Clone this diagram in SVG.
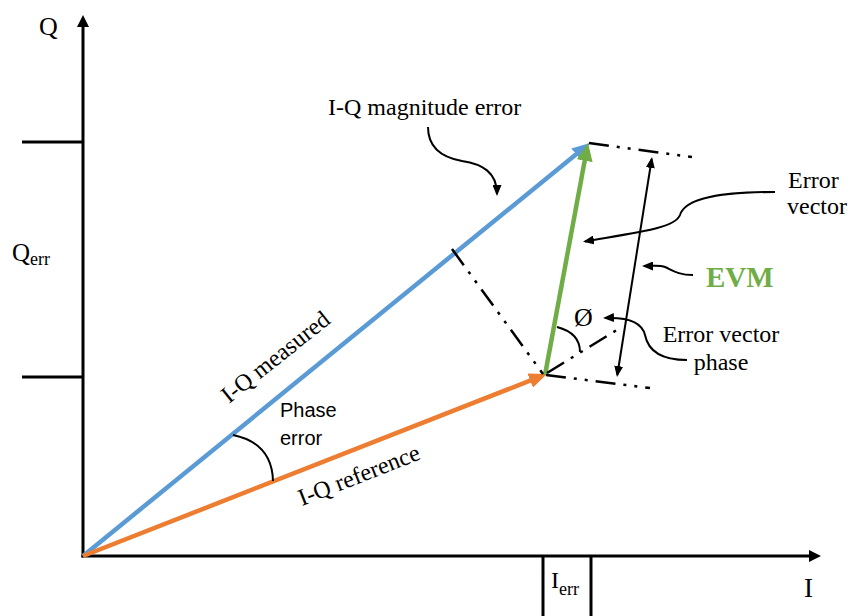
<svg xmlns="http://www.w3.org/2000/svg" width="850" height="616" viewBox="0 0 850 616">
<style>
.serif{font-family:"Liberation Serif","Times New Roman",serif;fill:#000}
.sans{font-family:"Liberation Sans",Arial,sans-serif;fill:#000}
.axis{stroke:#000;stroke-width:3;fill:none}
.thin{stroke:#000;stroke-width:2;fill:none}
.dd{stroke:#000;stroke-width:2.5;fill:none;stroke-dasharray:20 8 3 8 3 8}
</style>
<defs>
<marker id="axHead" viewBox="0 0 12 12" refX="8" refY="6" markerWidth="12" markerHeight="12" markerUnits="userSpaceOnUse" orient="auto"><path d="M0,0 L12,6 L0,12 z" fill="#000"/></marker>
<marker id="blueHead" viewBox="0 0 18 15" refX="12" refY="7.5" markerWidth="18" markerHeight="15" markerUnits="userSpaceOnUse" orient="auto"><path d="M0,0 L18,7.5 L0,15 z" fill="#5B9BD5"/></marker>
<marker id="orangeHead" viewBox="0 0 18 15" refX="12" refY="7.5" markerWidth="18" markerHeight="15" markerUnits="userSpaceOnUse" orient="auto"><path d="M0,0 L18,7.5 L0,15 z" fill="#ED7D31"/></marker>
<marker id="greenHead" viewBox="0 0 18 16" refX="12" refY="8" markerWidth="18" markerHeight="16" markerUnits="userSpaceOnUse" orient="auto"><path d="M0,0 L18,8 L0,16 z" fill="#70AD47"/></marker>
<marker id="smallHead" viewBox="0 0 11 9" refX="9" refY="4.5" markerWidth="11" markerHeight="9" markerUnits="userSpaceOnUse" orient="auto-start-reverse"><path d="M0,0 L11,4.5 L0,9 z" fill="#000"/></marker>
</defs>
<rect width="850" height="616" fill="#fff"/>

<g id="axes">
<line class="axis" x1="83" y1="557.5" x2="83" y2="19" marker-end="url(#axHead)"/>
<line class="axis" x1="81.5" y1="556" x2="817" y2="556" marker-end="url(#axHead)"/>
<line class="axis" x1="22" y1="142" x2="83" y2="142"/>
<line class="axis" x1="22" y1="377" x2="83" y2="377"/>
<line class="axis" x1="543" y1="556" x2="543" y2="616"/>
<line class="axis" x1="591" y1="556" x2="591" y2="616"/>
<text class="serif" x="39" y="35" font-size="26">Q</text>
<text class="serif" x="804" y="597" font-size="27">I</text>
<text class="serif" x="12" y="261" font-size="25">Q<tspan font-size="18" dy="4">err</tspan></text>
<text class="serif" x="551" y="588" font-size="24">I<tspan font-size="18" dy="7">err</tspan></text>
</g>

<g id="connectors">
<line x1="83" y1="556" x2="585.35" y2="146.79" stroke="#5B9BD5" stroke-width="4.5" marker-end="url(#blueHead)"/>
<line x1="83" y1="556" x2="541.4" y2="376.2" stroke="#ED7D31" stroke-width="4.5" marker-end="url(#orangeHead)"/>
<line x1="545" y1="375" x2="586.9" y2="148.9" stroke="#70AD47" stroke-width="4.5" marker-end="url(#greenHead)"/>
<line class="dd" x1="452" y1="249" x2="543" y2="374"/>
<line class="dd" x1="589" y1="143" x2="692" y2="157"/>
<line class="dd" x1="546" y1="375" x2="650" y2="388"/>
<line class="dd" x1="547" y1="373" x2="620" y2="328"/>
<line class="thin" x1="651.7" y1="159" x2="617.3" y2="375" marker-start="url(#smallHead)" marker-end="url(#smallHead)"/>
<path class="thin" d="M428,127 C428,150 445,158 462,161 C482,164 497,172 497,194" marker-end="url(#smallHead)"/>
<path class="thin" d="M775,192 C720,192 685,198 680,215 C675,228 640,232 585,241.4" marker-end="url(#smallHead)"/>
<path class="thin" d="M693,275 C678,275 672,270 665,267 C660,265 655,266 644,266" marker-end="url(#smallHead)"/>
<path class="thin" d="M687,360 C660,360 648,350 645,335 C642,322 628,317 605,318" marker-end="url(#smallHead)"/>
<path class="thin" d="M233,435 Q272,443 273,481"/>
<path class="thin" d="M557,327 Q580,333 580,352"/>
</g>

<g id="labels">
<text class="serif" x="328" y="115" font-size="24">I-Q magnitude error</text>
<text class="serif" x="788" y="188" font-size="24">Error</text>
<text class="serif" x="787" y="214" font-size="24">vector</text>
<text x="706" y="287" font-size="29" font-weight="bold" font-family="'Liberation Serif','Times New Roman',serif" fill="#70AD47">EVM</text>
<text class="serif" x="574" y="326" font-size="26">Ø</text>
<text class="serif" x="721" y="342" font-size="24" text-anchor="middle">Error vector</text>
<text class="serif" x="721" y="370" font-size="24" text-anchor="middle">phase</text>
<text class="serif" font-size="24" transform="translate(229,404) rotate(-38.5)">I-Q measured</text>
<text class="serif" font-size="24" transform="translate(302,506) rotate(-21.5)">I-Q reference</text>
<text class="sans" x="280" y="417" font-size="20">Phase</text>
<text class="sans" x="280" y="445" font-size="20">error</text>
</g>
</svg>
